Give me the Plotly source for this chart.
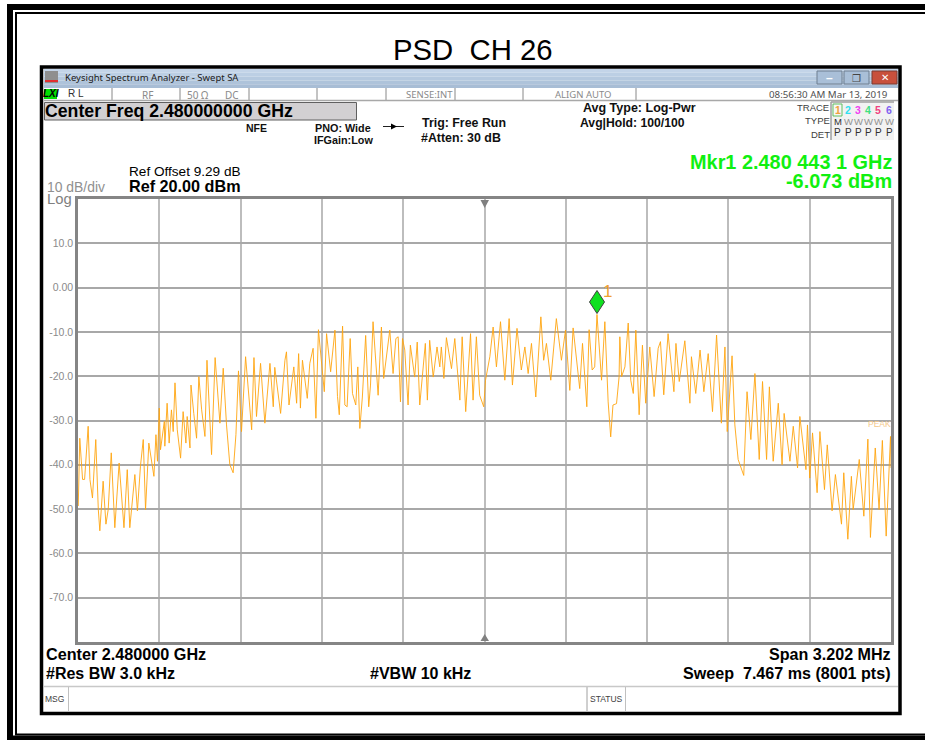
import plotly.graph_objects as go

# ---------- data ----------
freq_offset_khz = [
 -1600,-1594,-1583,-1575,-1561,-1554,-1544,-1531,-1521,-1515,-1502,-1491,-1482,-1470,-1456,-1439,-1420,-1407,-1397,-1377,
 -1367,-1355,-1344,-1335,-1322,-1302,-1294,-1288,-1281,-1276,-1261,-1259,-1250,-1242,-1233,-1226,-1219,-1210,-1197,-1187,
 -1176,-1171,-1160,-1156,-1145,-1134,-1125,-1114,-1101,-1093,-1075,-1061,-1042,-1029,-1016,-1003,-990,-979,-969,-957,
 -941,-917,-908,-898,-882,-865,-845,-832,-826,-803,-786,-780,-770,-751,-740,-732,-725,-717,-698,-688,
 -675,-664,-654,-638,-631,-622,-606,-589,-579,-572,-559,-550,-541,-529,-520,-507,-499,-491,-481,-468,
 -456,-449,-439,-419,-406,-397,-386,-373,-360,-349,-340,-331,-323,-314,-301,-292,-275,-265,-255,-244,
 -233,-225,-216,-202,-187,-176,-170,-160,-150,-130,-117,-97,-88,-74,-55,-45,-32,-19,-3,4,
 21,34,47,63,80,97,110,128,145,159,172,185,202,222,233,244,261,283,303,319,
 336,349,375,386,403,412,424,434,443,461,474,487,497,506,520,530,
 533,540,553,566,576,586,596,609,622,635,651,668,684,693,706,723,746,754,767,789,
 809,815,832,849,864,881,898,914,933,947,956,975,986,999,1021,1034,1049,1065,1082,1095,
 1111,1122,1137,1157,1172,1180,1203,1216,1233,1242,1258,1266,1272,1281,1292,1310,1321,1339,1350,1369,
 1382,1406,1415,1431,1445,1452,1476,1494,1510,1520,1539,1554,1567,1582,1599,1601]
power_dbm = [
 -49.3,-34.0,-43.3,-43.3,-31.3,-43.3,-47.5,-34.3,-50.1,-54.9,-43.7,-53.4,-50.1,-37.3,-54.2,-39.6,-54.2,-41.1,-54.2,-42.2,
 -50.4,-40.3,-34.3,-50.1,-35.1,-42.6,-33.2,-39.2,-27.2,-36.6,-30.2,-35.8,-26.1,-35.1,-27.6,-32.5,-21.5,-32.1,-38.5,-28.0,
 -35.1,-29.1,-36.2,-22.0,-28.4,-34.0,-20.1,-27.6,-33.6,-16.4,-37.7,-15.8,-30.6,-18.2,-31.0,-40.0,-41.8,-33.2,-18.8,-32.5,
 -15.6,-32.1,-15.8,-29.1,-17.1,-30.6,-17.1,-26.9,-18.0,-28.4,-16.4,-14.5,-26.5,-17.9,-26.1,-14.9,-27.2,-16.4,-25.0,-17.1,
 -13.7,-29.5,-9.5,-19.4,-23.5,-10.4,-19.0,-9.6,-24.6,-28.7,-8.7,-26.5,-26.9,-11.5,-23.9,-26.5,-17.9,-31.8,-24.7,-10.8,
 -26.9,-22.0,-7.7,-24.3,-8.9,-20.5,-16.0,-9.6,-19.4,-11.5,-11.1,-25.8,-11.5,-14.1,-26.5,-13.0,-20.2,-12.3,-26.5,-19.4,
 -12.6,-25.4,-11.9,-20.2,-13.4,-17.9,-13.4,-20.5,-11.3,-18.3,-11.5,-25.4,-11.1,-28.0,-10.4,-25.4,-11.1,-24.3,-26.9,-20.9,
 -15.6,-8.9,-17.9,-7.7,-20.9,-7.0,-22.0,-9.2,-18.6,-13.4,-19.4,-12.6,-24.7,-6.6,-16.4,-12.6,-20.9,-7.0,-16.4,-9.6,
 -23.2,-9.1,-22.8,-12.6,-26.9,-9.5,-18.6,-17.9,-6.07,-20.9,-7.7,-25.8,-33.7,-26.5,-26.2,-20.2,
 -11.1,-20.1,-17.9,-8.0,-20.9,-23.9,-9.6,-28.7,-13.0,-26.1,-13.4,-24.6,-13.7,-12.2,-24.2,-10.4,-23.5,-12.6,-21.2,-12.0,
 -26.1,-15.6,-23.9,-14.1,-23.5,-14.9,-28.0,-10.7,-30.6,-13.4,-32.5,-15.4,-31.0,-38.8,-42.4,-23.5,-34.3,-19.4,-38.8,-21.2,
 -38.8,-22.4,-39.2,-26.1,-40.0,-28.4,-39.2,-31.3,-40.7,-29.1,-36.6,-41.1,-31.0,-43.0,-32.8,-46.3,-32.5,-45.6,-35.5,-50.4,
 -42.2,-53.4,-41.8,-56.8,-42.6,-50.1,-38.8,-51.6,-34.2,-56.4,-36.2,-50.1,-34.5,-56.1,-33.6,-40.7]
y_tick_vals = [10, 0, -10, -20, -30, -40, -50, -60, -70]
y_tick_text = ["10.0", "0.00", "-10.0", "-20.0", "-30.0", "-40.0", "-50.0", "-60.0", "-70.0"]
x_tick_vals = [-1280.8, -960.6, -640.4, -320.2, 0, 320.2, 640.4, 960.6, 1280.8]
marker_freq_khz = 443.1
marker_dbm = -6.073

# ---------- pixel layout helpers (chrome around the plot) ----------
L, R, T, B = 78, 891, 199, 642
W, H = 925, 740
FONT = "Liberation Sans"
def xp(p): return (p - L) / (R - L)
def yp(p): return (B - p) / (B - T)

shapes, anns = [], []
def rect(x0, y0, x1, y1, fill=None, line=None, lw=0, layer="below"):
    shapes.append(dict(type="rect", xref="paper", yref="paper", x0=xp(x0), x1=xp(x1), y0=yp(y1), y1=yp(y0),
                       fillcolor=fill or "rgba(0,0,0,0)", line=dict(color=line or "rgba(0,0,0,0)", width=lw), layer=layer))
def hline(x0, x1, y, c, lw=1): rect(x0, y, x1, y, line=c, lw=lw)
def vline(x, y0, y1, c, lw=1): rect(x, y0, x, y1, line=c, lw=lw)
def tri(x0, y0, x1, y1, x2, y2, c):
    p = f"M{xp(x0)},{yp(y0)} L{xp(x1)},{yp(y1)} L{xp(x2)},{yp(y2)} Z"
    shapes.append(dict(type="path", xref="paper", yref="paper", path=p, fillcolor=c, line=dict(width=0), layer="above"))
def txt(s, x, y, size, color="#000000", bold=False, anchor="left", font=FONT):
    anns.append(dict(text=f"<b>{s}</b>" if bold else s, x=xp(x), y=yp(y), xref="paper", yref="paper", showarrow=False,
                     xanchor=anchor, yanchor="middle", borderpad=0, borderwidth=0,
                     font=dict(family=font, size=size, color=color)))

# page frames (they run off the right edge)
rect(10, 7, 940, 738.5, line="#000000", lw=6)
rect(16, 13, 940, 734.5, line="#000000", lw=2)
# analyser window
rect(41.5, 67, 900, 713.5, fill="#ffffff", line="#000000", lw=3.5)
for i, c in enumerate(["#c3d4e8", "#bccfe4", "#b5c9df", "#aec3da", "#a8bdd5"]):
    rect(44, 69 + i * 3.8, 898, 69 + (i + 1) * 3.8, fill=c)
rect(45, 71, 58, 83, fill="#8f8f8f"); rect(45, 80, 58, 82, fill="#e03030")
rect(817, 71, 842, 84, fill="#a9bfd8", line="#6f7f90", lw=1)
rect(844, 71, 869, 84, fill="#a9bfd8", line="#6f7f90", lw=1)
rect(872, 71, 897, 84, fill="#c8503c", line="#7a3a30", lw=1)
txt("–", 829.5, 78, 12, "#ffffff", True, "center")
txt("❐", 856.5, 78, 10, "#444444", False, "center", "DejaVu Sans")
txt("✕", 884.5, 77.5, 10, "#ffffff", True, "center", "DejaVu Sans")
txt("Keysight Spectrum Analyzer - Swept SA", 65, 77.5, 9.5, "#202020", False, "left", "Noto Sans")
# status row
rect(44, 89, 57, 99, fill="#00e000")
txt("<i>LXI</i>", 50.5, 94, 10, "#000000", True, "center")
for x in [112, 180, 249, 317, 386, 455, 523, 636]:
    vline(x, 88, 100, "#b0b0b0")
hline(44, 898, 100.5, "#a8a8a8", 1.5)
txt("R L", 68, 93.5, 10, "#303030")
txt("RF", 147, 94.5, 10, "#8a8a8a", False, "center", "Noto Sans")
txt("50 Ω", 197, 94.5, 10, "#8a8a8a", False, "center", "Noto Sans")
txt("DC", 232, 94.5, 10, "#8a8a8a", False, "center", "Noto Sans")
txt("SENSE:INT", 429, 94.5, 9.5, "#8a8a8a", False, "center", "Noto Sans")
txt("ALIGN AUTO", 583, 94.5, 9.5, "#8a8a8a", False, "center", "Noto Sans")
txt("08:56:30 AM Mar 13, 2019", 888, 94.5, 9.75, "#505050", False, "right", "Noto Sans")
# header
rect(44.5, 102.5, 356.5, 120, fill="#d2d0d2", line="#606060", lw=1)
txt("Center Freq 2.480000000 GHz", 45, 111, 17.7, "#000000", True)
txt("NFE", 246, 127.5, 10.5, "#101010", True)
txt("PNO: Wide", 315, 127.5, 10.8, "#101010", True)
txt("IFGain:Low", 314, 140, 10.8, "#101010", True)
hline(383, 404, 126.5, "#202020", 1)
tri(391, 123.5, 391, 129.5, 397, 126.5, "#000000")
txt("Trig: Free Run", 422, 123, 12.4, "#101010", True)
txt("#Atten: 30 dB", 421, 138, 12.4, "#101010", True)
txt("Avg Type: Log-Pwr", 583, 108, 12.5, "#101010", True)
txt("Avg|Hold: 100/100", 580, 123, 12.2, "#101010", True)
# trace table
rect(831, 102, 894, 140, fill="#f2f2f2")
rect(833, 104, 842, 116, fill="#f6f6f6", line="#60c060", lw=1)
hline(831, 894, 102, "#a0a0a0", 1.5); vline(831, 102, 140, "#a0a0a0", 1.5)
txt("TRACE", 829, 108, 9.5, "#404040", False, "right")
txt("TYPE", 830, 121, 9.5, "#404040", False, "right")
txt("DET", 830, 134, 9.5, "#404040", False, "right")
trace_x = [837.5, 848, 858, 868, 878, 889]
for x, n, c in zip(trace_x, "123456", ["#f0a040", "#30e0f0", "#f040f0", "#40e080", "#f04080", "#8060f0"]):
    txt(n, x, 110, 10.5, c, True, "center")
for x, t in zip(trace_x, ["M", "W", "W", "W", "W", "W"]):
    txt(t, x, 121.5, 9.5, "#303030" if t == "M" else "#909090", False, "center")
for x in trace_x:
    txt("P", x, 132.5, 10, "#303030", False, "center")
txt("Mkr1 2.480 443 1 GHz", 891.5, 162, 19.9, "#10f010", True, "right")
txt("-6.073 dBm", 891.5, 181, 19.9, "#10f010", True, "right")
txt("Ref Offset 9.29 dB", 129, 171, 13.6)
txt("Ref 20.00 dBm", 129, 186, 16.2, "#000000", True)
txt("10 dB/div", 47, 186.5, 13.9, "#909090")
txt("Log", 47, 199, 14.8, "#808080")
txt("PSD\u00a0\u00a0CH 26", 472.5, 50, 29.3, "#000000", False, "center")
# centre triangles on the graticule
tri(480.5, 200, 489, 200, 484.7, 208, "#808080")
tri(480.5, 641, 489, 641, 484.7, 634, "#808080")
txt("PEAK", 891, 423.5, 8.5, "#f5c88a", False, "right")
txt("1", 607.5, 291, 17, "#f0a030", False, "center")
# footer
txt("Center 2.480000 GHz", 46, 654, 16.2, "#000000", True)
txt("Span 3.202 MHz", 891, 654, 16.1, "#000000", True, "right")
txt("#Res BW 3.0 kHz", 46, 673, 16, "#000000", True)
txt("#VBW 10 kHz", 370, 673, 16, "#000000", True)
txt("Sweep\u00a0\u00a07.467 ms (8001 pts)", 891, 673, 16.1, "#000000", True, "right")
hline(44, 898, 686.5, "#c8c8c8", 1.5)
vline(68.5, 687, 712, "#c0c0c0"); vline(587, 687, 712, "#c0c0c0"); vline(625.5, 687, 712, "#c0c0c0")
txt("MSG", 45, 698.5, 8.5, "#404040")
txt("STATUS", 606, 698.5, 8.5, "#404040", False, "center")
# marker diamond, anchored on the marker's own data value
shapes.append(dict(type="path", xref="x", yref="y", xsizemode="pixel", ysizemode="pixel",
                   xanchor=marker_freq_khz, yanchor=marker_dbm,
                   path="M0,1 L7.5,12.5 L0,24 L-7.5,12.5 Z", fillcolor="#10e020",
                   line=dict(color="#404040", width=1), layer="above"))

fig = go.Figure()
fig.add_trace(go.Scatter(x=freq_offset_khz, y=power_dbm, mode="lines", name="Trace 1",
                         line=dict(color="#ffa510", width=0.9), showlegend=False))
fig.update_layout(
    width=W, height=H, margin=dict(l=L, r=W - R, t=T, b=H - B, pad=0),
    paper_bgcolor="#ffffff", plot_bgcolor="#ffffff", showlegend=False,
    shapes=shapes, annotations=anns, font=dict(family=FONT),
    xaxis=dict(range=[-1601, 1601], tickmode="array", tickvals=x_tick_vals, showticklabels=False, ticks="",
               showgrid=True, gridcolor="#bdbdbd", gridwidth=1.5, zeroline=False,
               showline=True, mirror=True, linecolor="#858585", linewidth=2.5),
    yaxis=dict(range=[-80, 20], tickmode="array", tickvals=y_tick_vals, ticktext=y_tick_text, ticks="",
               tickfont=dict(family=FONT, size=10.5, color="#8a8a8a"),
               showgrid=True, gridcolor="#a8a8a8", gridwidth=1.5, zeroline=False,
               showline=True, mirror=True, linecolor="#858585", linewidth=2.5),
)
fig.write_html("out.html", post_script="document.body.style.margin='0';", config=dict(displayModeBar=False))
